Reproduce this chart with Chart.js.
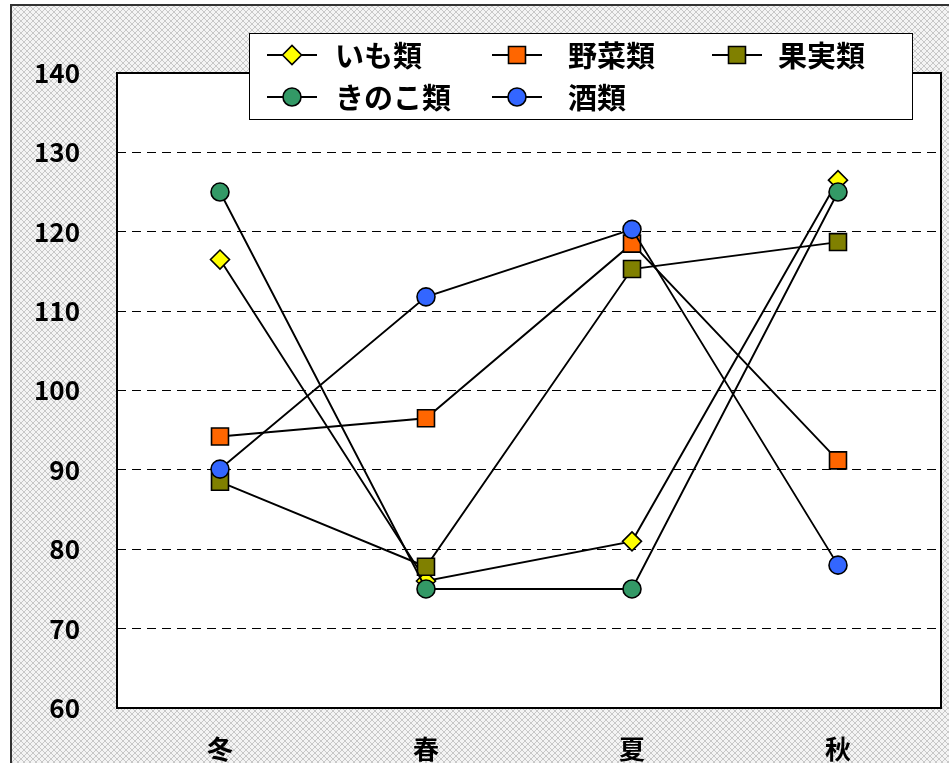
<!DOCTYPE html>
<html>
<head>
<meta charset="utf-8">
<script src="https://cdn.jsdelivr.net/npm/chart.js@4/dist/chart.umd.min.js"></script>
<style>
  html, body { margin: 0; padding: 0; background: #fff; }
  #wrap { width: 949px; height: 763px; }
</style>
</head>
<body>
<div id="wrap"><canvas id="c" width="949" height="763"></canvas></div>
<script>
// Seasonal index by food category
const seasons = ['冬', '春', '夏', '秋'];
const seriesNames = ['いも類', '野菜類', '果実類', 'きのこ類', '酒類'];
const imoValues = [116.5, 76, 81, 126.5];
const yasaiValues = [94.2, 96.5, 118.5, 91.2];
const kajitsuValues = [88.5, 77.8, 115.3, 118.7];
const kinokoValues = [125, 75, 75, 125];
const sakeValues = [90.1, 111.8, 120.3, 78];
const yTickMin = 60, yTickMax = 140, yTickStep = 10;

const FONT_FAMILY = '"Noto Sans CJK JP", "Noto Sans", sans-serif';

const seriesStyles = [
  { color: '#ffff00', pointStyle: 'rectRot', radius: 9.5 },
  { color: '#ff6600', pointStyle: 'rect', radius: 12 },
  { color: '#808000', pointStyle: 'rect', radius: 12 },
  { color: '#339966', pointStyle: 'circle', radius: 9 },
  { color: '#3366ff', pointStyle: 'circle', radius: 9 }
];
const seriesValues = [imoValues, yasaiValues, kajitsuValues, kinokoValues, sakeValues];

const datasets = seriesNames.map((name, i) => ({
  label: name,
  data: seriesValues[i],
  borderColor: '#000',
  borderWidth: 1.9,
  pointStyle: seriesStyles[i].pointStyle,
  pointRadius: seriesStyles[i].radius,
  pointBackgroundColor: seriesStyles[i].color,
  pointBorderColor: '#000',
  pointBorderWidth: 1.6,
  tension: 0,
  fill: false,
  order: seriesNames.length - i
}));

// crosshatch fill for the area around the plot
function makeHatch(ctx) {
  const p = document.createElement('canvas');
  p.width = 6; p.height = 6;
  const g = p.getContext('2d');
  g.fillStyle = '#f4f4f4';
  g.fillRect(0, 0, 6, 6);
  g.fillStyle = '#c8c8c8';
  for (let k = 0; k < 6; k++) {
    g.fillRect(k, k, 1, 1);
    g.fillRect(5 - k, k, 1, 1);
  }
  return ctx.createPattern(p, 'repeat');
}

const framePlugin = {
  id: 'frame',
  beforeDraw(chart) {
    const ctx = chart.ctx, a = chart.chartArea;
    ctx.save();
    ctx.fillStyle = '#fff';
    ctx.fillRect(0, 0, chart.width, chart.height);
    ctx.fillStyle = makeHatch(ctx);
    ctx.fillRect(10, 5, chart.width - 10, chart.height - 5);
    ctx.strokeStyle = '#333';
    ctx.lineWidth = 2;
    ctx.beginPath();
    ctx.moveTo(11, chart.height);
    ctx.lineTo(11, 5);
    ctx.lineTo(chart.width, 5);
    ctx.stroke();
    ctx.fillStyle = '#fff';
    ctx.fillRect(a.left, a.top, a.right - a.left, a.bottom - a.top);
    ctx.restore();
  },
  beforeDatasetsDraw(chart) {
    const ctx = chart.ctx, a = chart.chartArea;
    ctx.save();
    ctx.strokeStyle = '#000';
    ctx.lineWidth = 2;
    ctx.strokeRect(a.left, a.top, a.right - a.left, a.bottom - a.top);
    ctx.restore();
  }
};

// two-row legend in a boxed panel
const legendPlugin = {
  id: 'boxLegend',
  afterDraw(chart) {
    const ctx = chart.ctx;
    const box = { x: 249, y: 33, w: 663, h: 86 };
    const slots = [
      { x: 292, y: 55, tx: 335 }, { x: 517, y: 55, tx: 568 }, { x: 737, y: 55, tx: 778 },
      { x: 292, y: 97, tx: 335 }, { x: 517, y: 97, tx: 568 }
    ];
    ctx.save();
    ctx.fillStyle = '#fff';
    ctx.fillRect(box.x, box.y, box.w, box.h);
    ctx.strokeStyle = '#000';
    ctx.lineWidth = 1;
    ctx.strokeRect(box.x + 0.5, box.y + 0.5, box.w, box.h);
    chart.data.datasets.forEach((ds, i) => {
      const s = slots[i];
      ctx.strokeStyle = '#000';
      ctx.lineWidth = 1.9;
      ctx.beginPath();
      ctx.moveTo(s.x - 25, s.y);
      ctx.lineTo(s.x + 25, s.y);
      ctx.stroke();
      ctx.fillStyle = ds.pointBackgroundColor;
      ctx.strokeStyle = '#000';
      ctx.lineWidth = 1.6;
      Chart.helpers.drawPoint(ctx, {
        pointStyle: ds.pointStyle, radius: ds.pointRadius, rotation: 0, borderWidth: 1.6
      }, s.x, s.y);
      ctx.fillStyle = '#000';
      ctx.font = 'bold 29px ' + FONT_FAMILY;
      ctx.textAlign = 'left';
      ctx.textBaseline = 'middle';
      ctx.fillText(ds.label, s.tx, s.y + 1);
    });
    ctx.restore();
  }
};

const tickFont = { family: FONT_FAMILY, size: 26, weight: 'bold' };

new Chart(document.getElementById('c').getContext('2d'), {
  type: 'line',
  data: { labels: seasons, datasets },
  options: {
    responsive: false,
    animation: false,
    layout: { autoPadding: false, padding: { top: 73, right: 8, left: 0, bottom: 0 } },
    plugins: { legend: { display: false }, tooltip: { enabled: false } },
    scales: {
      x: {
        offset: true,
        grid: { display: false, drawTicks: false },
        border: { display: false },
        ticks: { font: tickFont, color: '#000', padding: 26 },
        afterFit(scale) { scale.height = 55; }
      },
      y: {
        min: yTickMin,
        max: yTickMax,
        ticks: { stepSize: yTickStep, font: tickFont, color: '#000', padding: 37 },
        grid: { color: '#000', lineWidth: 1, drawTicks: false },
        border: { display: false, dash: [9, 6] },
        afterFit(scale) { scale.width = 117; }
      }
    }
  },
  plugins: [framePlugin, legendPlugin]
});
</script>
</body>
</html>
